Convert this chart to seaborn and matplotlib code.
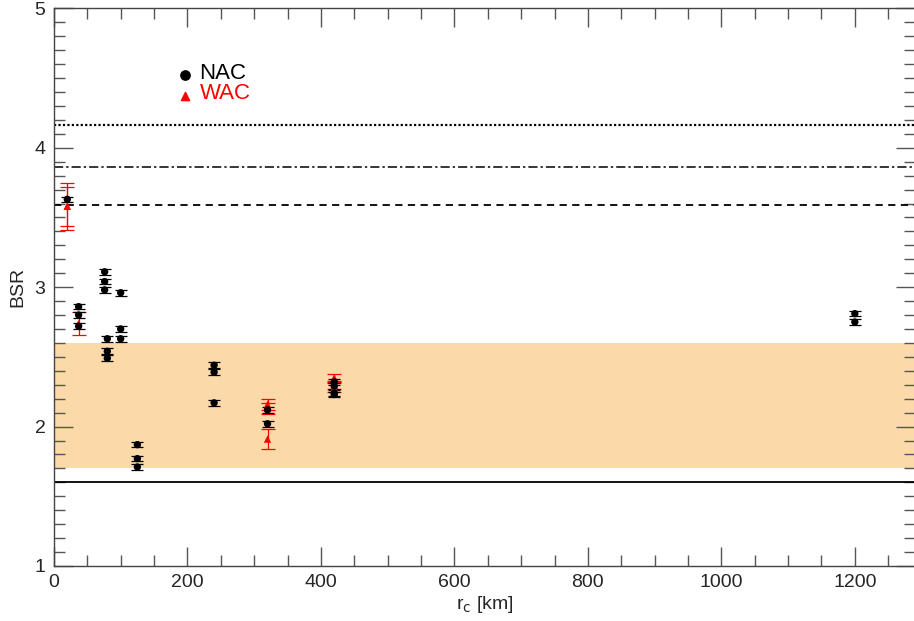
import matplotlib
matplotlib.use("Agg")
import matplotlib.pyplot as plt
from matplotlib.ticker import MultipleLocator
import seaborn as sns
import pandas as pd

# NAC measurements (crater radius in km, BSR)
nac_r = [20, 37, 37, 37, 76, 76, 76, 80, 80, 80, 100, 100, 100,
         125, 125, 125, 240, 240, 240, 320, 320, 420, 420, 420, 420, 1200, 1200]
nac_bsr = [3.63, 2.86, 2.80, 2.72, 3.11, 3.04, 2.98, 2.63, 2.54, 2.49, 2.96, 2.70, 2.63,
           1.87, 1.77, 1.71, 2.44, 2.39, 2.17, 2.12, 2.02, 2.32, 2.29, 2.24, 2.23, 2.81, 2.75]
nac_err = [0.02] * len(nac_r)

# WAC measurements
wac_r = [20, 20, 37, 320, 320, 320, 420, 420, 420]
wac_bsr = [3.58, 3.58, 2.74, 2.16, 2.13, 1.91, 2.35, 2.30, 2.28]
wac_err = [0.17, 0.14, 0.08, 0.04, 0.04, 0.07, 0.03, 0.03, 0.03]

# reference levels
band_lo, band_hi = 1.7, 2.6
solid_level = 1.6
dashed_level = 3.59
dashdot_level = 3.86
dotted_level = 4.16

nac = pd.DataFrame({"r": nac_r, "bsr": nac_bsr, "err": nac_err})
wac = pd.DataFrame({"r": wac_r, "bsr": wac_bsr, "err": wac_err})

sns.set_style("ticks")
plt.rcParams["font.family"] = ["Liberation Sans", "DejaVu Sans"]

fig = plt.figure(figsize=(9.14, 6.21), dpi=100)
ax = fig.add_axes([0.059, 0.0886, 0.942, 0.898])

ax.axhspan(band_lo, band_hi, color="#FBD9A9", lw=0, zorder=0)
ax.axhline(solid_level, color="black", lw=1.3, ls="-")
ax.axhline(dashed_level, color="black", lw=1.3, ls=(0, (4, 3)))
ax.axhline(dashdot_level, color="black", lw=1.1, ls=(0, (6, 2, 1.5, 2)))
ax.axhline(dotted_level, color="black", lw=1.6, ls=(0, (1, 1)))

ax.errorbar(wac["r"], wac["bsr"], yerr=wac["err"], fmt="none", ecolor="red",
            elinewidth=0.9, capsize=5, capthick=0.9, zorder=3)
ax.errorbar(nac["r"], nac["bsr"], yerr=nac["err"], fmt="none", ecolor="black",
            elinewidth=0.9, capsize=4, capthick=0.9, zorder=3)

sns.scatterplot(data=wac, x="r", y="bsr", marker="^", color="red", s=28,
                edgecolor="none", ax=ax, zorder=4)
sns.scatterplot(data=nac, x="r", y="bsr", marker="o", color="black", s=28,
                edgecolor="none", ax=ax, zorder=5)

# legend drawn in data coordinates
ax.scatter([197], [4.52], marker="o", color="black", s=45, zorder=6)
ax.text(218, 4.53, "NAC", color="black", fontsize=16, va="center")
ax.scatter([197], [4.37], marker="^", color="red", s=35, zorder=6)
ax.text(218, 4.39, "WAC", color="red", fontsize=16, va="center")

ax.set_xlim(0, 1290)
ax.set_ylim(1, 5)
ax.xaxis.set_major_locator(MultipleLocator(200))
ax.xaxis.set_minor_locator(MultipleLocator(50))
ax.yaxis.set_major_locator(MultipleLocator(1))
ax.yaxis.set_minor_locator(MultipleLocator(0.1))
ax.tick_params(which="both", direction="in", top=True, right=True,
               labelsize=14, color="#555555", pad=6)
ax.tick_params(which="major", length=14, width=1)
ax.tick_params(which="minor", length=8, width=1)
for s in ax.spines.values():
    s.set_color("#444444")
    s.set_linewidth(1)

ax.set_xlabel("r$_\\mathrm{c}$ [km]", fontsize=14, labelpad=2)
ax.set_ylabel("BSR", fontsize=14, labelpad=6)

plt.savefig("out.png", dpi=100)
